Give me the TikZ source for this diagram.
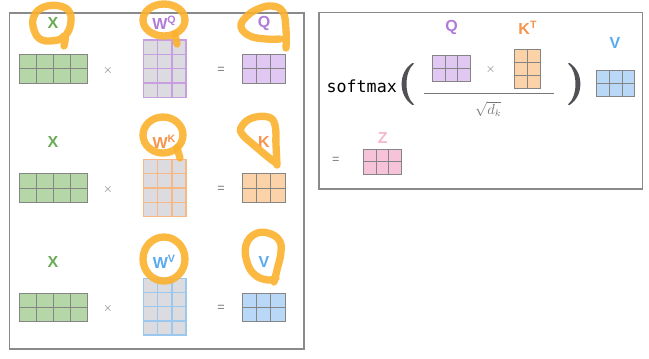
\documentclass[tikz,border=0pt]{standalone}
\usepackage{fontspec}
\setmainfont{Liberation Sans}
\setmonofont{DejaVu Sans Mono}
\usetikzlibrary{calc}
\definecolor{frame}{HTML}{8A8A8A}
\definecolor{lgreen}{HTML}{6AAA55}
\definecolor{fgreen}{HTML}{B5D6A7}
\definecolor{lpurple}{HTML}{B07CD8}
\definecolor{fpurple}{HTML}{E1C8F2}
\definecolor{dpurple}{HTML}{C79FE0}
\definecolor{lorange}{HTML}{F4944D}
\definecolor{forange}{HTML}{FCD3A8}
\definecolor{dorange}{HTML}{F8B886}
\definecolor{lblue}{HTML}{5AAAF0}
\definecolor{fblue}{HTML}{B9D8F8}
\definecolor{dblue}{HTML}{9CC8F0}
\definecolor{lpink}{HTML}{F5B8CC}
\definecolor{fpink}{HTML}{F7C3D9}
\definecolor{wgray}{HTML}{DCDCE0}
\definecolor{edge}{HTML}{858585}
\definecolor{opgray}{HTML}{777777}
\definecolor{paren}{HTML}{505055}
\definecolor{scrib}{HTML}{FBB12E}
\tikzset{
  matbox/.style={inner sep=0pt, outer sep=0pt},
  lab/.style={inner sep=0pt, font=\bfseries\fontsize{12}{14}\selectfont},
  op/.style={inner sep=0pt, text=opgray, font=\fontsize{9.5}{11}\selectfont},
  panel/.style={draw=frame, line width=0.8pt},
  scribble/.style={draw=scrib, line width=5.5pt, opacity=0.9, line cap=round, line join=round},
}
\newcommand{\supl}[1]{\raisebox{0.38em}{\fontsize{8}{9}\selectfont #1}}
% name, cx, cy, w, h, cols, rows, fill, draw, line width
\newcommand{\gridmat}[9]{%
  \node[matbox, fill=#8, draw=#9, line width=\gw, minimum width=#4*0.75pt, minimum height=#5*0.75pt] (#1) at (#2,#3) {};
  \pgfmathtruncatemacro{\nc}{#6-1}%
  \pgfmathtruncatemacro{\nr}{#7-1}%
  \foreach \i in {1,...,\nc} {\draw[draw=#9, line width=\gw] ($(#1.north west)!\i/#6!(#1.north east)$) -- ($(#1.south west)!\i/#6!(#1.south east)$);}
  \foreach \j in {1,...,\nr} {\draw[draw=#9, line width=\gw] ($(#1.north west)!\j/#7!(#1.south west)$) -- ($(#1.north east)!\j/#7!(#1.south east)$);}
}
\def\gw{0.75pt}
\begin{document}
\begin{tikzpicture}[x=0.75pt,y=-0.75pt]
\useasboundingbox (0,0) rectangle (649,358);
% panels
\draw[panel] (9.5,13) rectangle (304,349);
\draw[panel] (319,12.3) rectangle (642.3,189);

% row 1
\node[lab, text=lgreen] (x1) at (53,23) {X};
\node[lab, text=lpurple] (wq) at (164,23) {W\supl{Q}};
\node[lab, text=lpurple] (q1) at (264,23) {Q};
\gridmat{mx1}{53.2}{68.7}{67.7}{28.7}{4}{2}{fgreen}{edge}
\def\gw{1.1pt}
\gridmat{mwq}{164.7}{68.7}{42.7}{57.3}{3}{4}{wgray}{dpurple}
\def\gw{0.75pt}
\gridmat{mq1}{263.7}{68.7}{42.7}{28.7}{3}{2}{fpurple}{edge}
\node[op] (t1) at (108,70) {$\times$};
\node[op] (e1) at (221,70) {=};

% row 2
\node[lab, text=lgreen] (x2) at (53,142) {X};
\node[lab, text=lorange] (wk) at (164,142) {W\supl{K}};
\node[lab, text=lorange] (k1) at (264,142) {K};
\gridmat{mx2}{53.2}{188.2}{67.7}{28.7}{4}{2}{fgreen}{edge}
\def\gw{1.1pt}
\gridmat{mwk}{164.7}{188}{42.7}{57.5}{3}{4}{wgray}{dorange}
\def\gw{0.75pt}
\gridmat{mk1}{263.7}{188.2}{42.7}{28.7}{3}{2}{forange}{edge}
\node[op] (t2) at (108,189) {$\times$};
\node[op] (e2) at (221,189) {=};

% row 3
\node[lab, text=lgreen] (x3) at (53,262) {X};
\node[lab, text=lblue] (wv) at (164,262) {W\supl{V}};
\node[lab, text=lblue] (v1) at (264,262) {V};
\gridmat{mx3}{53.2}{307.5}{67.7}{28.7}{4}{2}{fgreen}{edge}
\def\gw{1.1pt}
\gridmat{mwv}{164.7}{306.7}{42.7}{56.7}{3}{4}{wgray}{dblue}
\def\gw{0.75pt}
\gridmat{mv1}{263.7}{307.5}{42.7}{28.7}{3}{2}{fblue}{edge}
\node[op] (t3) at (108,308) {$\times$};
\node[op] (e3) at (221,308) {=};

% right panel
\node[inner sep=0pt, font=\ttfamily\fontsize{12.5}{14}\selectfont] (sm) at (361.7,86) {softmax};
\fill[paren] (414,63.5) .. controls (404,72) and (404,96) .. (414,104.5) -- (412.5,105) .. controls (398,96) and (398,72) .. (412.5,63) -- cycle;
\fill[paren] (568,63.5) .. controls (578,72) and (578,96) .. (568,104.5) -- (569.5,105) .. controls (584,96) and (584,72) .. (569.5,63) -- cycle;
\node[lab, text=lpurple] (q2) at (451.7,27.7) {Q};
\node[lab, text=lorange] (kt) at (527.5,27.7) {K\supl{T}};
\node[lab, text=lblue] (v2) at (615,43.3) {V};
\node[lab, text=lpink] (z) at (382.7,137.7) {Z};
\gridmat{mq2}{451.5}{68.8}{38.4}{25.7}{3}{2}{fpurple}{edge}
\gridmat{mkt}{527.8}{68.8}{25.7}{39}{2}{3}{forange}{edge}
\gridmat{mv2}{615.8}{83.8}{38.3}{25.7}{3}{2}{fblue}{edge}
\gridmat{mz}{382.5}{161.7}{38.4}{25.3}{3}{2}{fpink}{edge}
\node[op] (t4) at (490.7,69.3) {$\times$};
\node[op] (e4) at (335.7,160) {=};
\coordinate (fl) at (424.3,93.3);
\coordinate (fr) at (554,93.3);
\draw[draw=opgray, line width=0.8pt] (fl) -- (fr);
\node[inner sep=0pt, text=opgray, font=\fontsize{10.5}{12}\selectfont] (sq) at (488.3,109.3) {$\sqrt{d_k}$};

% annotations (hand-drawn circles)
\draw[scribble] plot[smooth, tension=0.7] coordinates {(64,46) (65,36) (58,40) (42,40) (34,30) (34,16) (44,7) (60,6) (70,13) (70,27) (65,36)};
\draw[scribble] (164,20) ellipse [x radius=21, y radius=16];
\draw[scribble] plot[smooth, tension=0.7] coordinates {(175,34) (177,44)};
\draw[scribble] plot[smooth, tension=0.7] coordinates {(286,48) (286,30) (283,12) (272,6) (258,9) (246,17) (241,27) (250,36) (266,39) (280,39)};
\draw[scribble] (163,135) ellipse [x radius=20, y radius=18];
\draw[scribble] plot[smooth, tension=0.7] coordinates {(177,148) (180,158)};
\draw[scribble] plot[smooth, tension=0.7] coordinates {(277,165) (276,145) (275,125) (268,117) (252,118) (242,126) (242,134) (255,146) (268,157) (276,163)};
\draw[scribble] (164,259) ellipse [x radius=21, y radius=22];
\draw[scribble] plot[smooth, tension=0.7] coordinates {(274,282) (277,270) (281,252) (279,240) (268,233) (255,234) (246,245) (247,262) (255,275) (268,280) (276,278)};
\end{tikzpicture}
\end{document}
